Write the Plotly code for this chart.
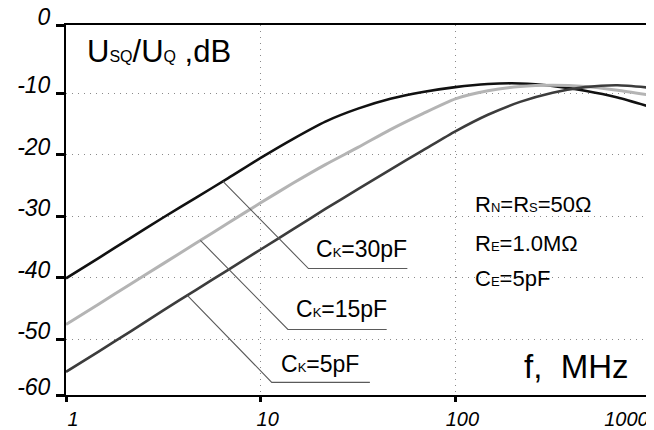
import numpy as np
import plotly.graph_objects as go

# ---- data (1/6-decade frequency steps) ----
freq_mhz = [1, 1.47, 2.15, 3.16, 4.64, 6.81, 10, 14.7, 21.5, 31.6, 46.4, 68.1,
            100, 147, 215, 316, 464, 681, 1000]
gain_ck30 = [-40.1, -36.8, -33.5, -30.2, -27.0, -23.8, -20.5, -17.4, -14.6, -12.5, -10.9, -9.8,
             -9.0, -8.5, -8.4, -8.8, -9.6, -10.7, -12.2]
gain_ck15 = [-47.6, -44.3, -41.0, -37.7, -34.4, -31.1, -27.8, -24.6, -21.6, -18.8, -15.9, -13.3,
             -10.9, -9.6, -8.9, -8.7, -8.9, -9.5, -10.3]
gain_ck5 = [-55.3, -52.0, -48.7, -45.3, -42.0, -38.7, -35.4, -32.1, -28.8, -25.6, -22.4, -19.3,
            -16.2, -13.5, -11.4, -9.9, -9.0, -8.7, -9.1]

SUB = '<span style="font-size:{}px">{}</span>'
series_names = ["C" + SUB.format(13, "K") + "=30pF",
                "C" + SUB.format(13, "K") + "=15pF",
                "C" + SUB.format(13, "K") + "=5pF"]
series_values = [gain_ck30, gain_ck15, gain_ck5]
series_colors = ["#111111", "#b4b4b4", "#3c3c3c"]
series_widths = [2.6, 3.0, 2.6]

# leader lines / labels for each series
leader_start_f = [6.4, 4.9, 4.2]
leader_corner_f = [17.6, 13.8, 11.4]
leader_corner_db = [-38.5, -48.4, -57.0]
leader_end_f = [56.7, 44.4, 36.4]
label_center_f = [33.0, 26.0, 20.1]
label_center_db = [-35.3, -45.0, -54.1]

x_tick_vals = [1, 10, 100, 1000]
x_tick_text = ["1", "10", "100", "1000" + "\u00a0" * 11]
y_range = [-59.06, 1.1]
y_tick_vals = [-59.06, -50, -40, -30, -20, -10, 1.1]
y_tick_text = ["-60", "-50", "-40", "-30", "-20", "-10", "0"]

y_title = "U" + SUB.format(16, "SQ") + "/U" + SUB.format(16, "Q") + " ,dB"
x_title = "f,\u00a0 MHz"
param_lines = ["R" + SUB.format(13, "N") + "=R" + SUB.format(13, "S") + "=50\u03a9",
               "R" + SUB.format(13, "E") + "=1.0M\u03a9",
               "C" + SUB.format(13, "E") + "=5pF"]

FONT = "Liberation Sans, Arial, sans-serif"

fig = go.Figure()

for name, vals, col, w in zip(series_names, series_values, series_colors, series_widths):
    fig.add_trace(go.Scatter(x=freq_mhz, y=vals, mode="lines", name=name,
                             line=dict(color=col, width=w, shape="spline", smoothing=0.6),
                             hoverinfo="skip"))

logf = np.log10(freq_mhz)
for i, vals in enumerate(series_values):
    y0 = float(np.interp(np.log10(leader_start_f[i]), logf, vals))
    fig.add_trace(go.Scatter(
        x=[leader_start_f[i], leader_corner_f[i], leader_end_f[i]],
        y=[y0, leader_corner_db[i], leader_corner_db[i]],
        mode="lines", line=dict(color="#5a5a5a", width=1.1), hoverinfo="skip"))
    fig.add_annotation(x=np.log10(label_center_f[i]), y=label_center_db[i], xref="x", yref="y",
                       text=series_names[i], showarrow=False, xanchor="center", yanchor="middle",
                       font=dict(family=FONT, size=23, color="black"))

fig.add_annotation(x=0.033, y=0.928, xref="paper", yref="paper", text=y_title, showarrow=False,
                   xanchor="left", yanchor="middle", font=dict(family=FONT, size=31, color="black"))
fig.add_annotation(x=0.967, y=0.076, xref="paper", yref="paper", text=x_title, showarrow=False,
                   xanchor="right", yanchor="middle", font=dict(family=FONT, size=33, color="black"))
for txt, yp in zip(param_lines, [0.514, 0.41, 0.314]):
    fig.add_annotation(x=0.697, y=yp, xref="paper", yref="paper", text=txt, showarrow=False,
                       xanchor="left", yanchor="middle", font=dict(family=FONT, size=22, color="black"))

common = dict(showline=True, linecolor="black", linewidth=2, mirror=True,
              ticks="outside", tickwidth=3, tickcolor="black",
              showgrid=True, gridcolor="#8a8a8a", gridwidth=1, griddash="1px,5px",
              zeroline=False, automargin=False, ticklabeloverflow="allow")

fig.update_xaxes(type="log", range=[0, 3], tickvals=x_tick_vals, ticktext=x_tick_text,
                 ticklen=5, ticklabelshift=7,
                 tickfont=dict(family=FONT, size=20, color="black", style="italic"), **common)
fig.update_yaxes(range=y_range, tickvals=y_tick_vals, ticktext=y_tick_text,
                 ticklen=8, ticklabelshift=-8, ticklabelstandoff=1,
                 tickfont=dict(family=FONT, size=23, color="black", style="italic"), **common)

# the page body adds an 8px margin; the figure is sized so the plot
# area lands at x 66..642, y 25..395 in the 654x430 window
fig.update_layout(width=646, height=422, margin=dict(l=58, r=4, t=17, b=35),
                  plot_bgcolor="white", paper_bgcolor="white", showlegend=False)

fig.write_html("out.html")
